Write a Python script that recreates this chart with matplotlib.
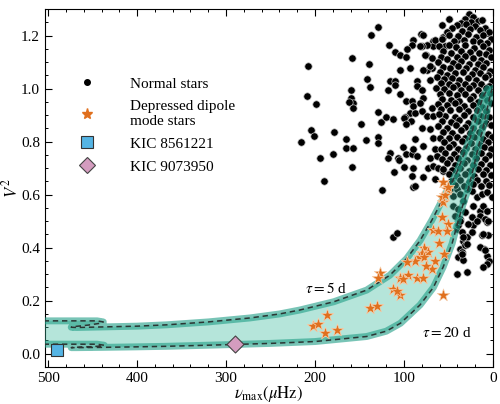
import numpy as np
import matplotlib.pyplot as plt
from matplotlib.patches import Polygon
from matplotlib.lines import Line2D
from matplotlib.ticker import MultipleLocator

plt.rcParams['font.family'] = ['Liberation Serif', 'DejaVu Serif']
plt.rcParams['mathtext.fontset'] = 'stix'

# normal stars, sparse part (numax, V^2)
sparse_stars = [
    (49.0, 1.262), (57.7, 1.240), (129.6, 1.234), (137.0, 1.202), (80.9, 1.205), (89.5, 1.184),
    (117.4, 1.166), (91.4, 1.165), (97.0, 1.150), (110.0, 1.137), (104.5, 1.127), (97.8, 1.121),
    (158.8, 1.115), (207.5, 1.086), (139.0, 1.094), (105.0, 1.071), (93.3, 1.077), (141.9, 1.037),
    (138.2, 1.006), (115.7, 1.027), (110.0, 1.030), (110.0, 1.015), (160.0, 0.996), (117.6, 0.996),
    (104.5, 0.981), (209.3, 0.971), (198.9, 0.941), (160.0, 0.965), (157.0, 0.946), (161.8, 0.949),
    (157.0, 0.928), (98.1, 0.952), (91.4, 0.952), (90.2, 0.934), (93.3, 0.909), (98.9, 0.892),
    (128.9, 0.911), (126.2, 0.874), (120.6, 0.894), (112.7, 0.886), (100.0, 0.890), (92.5, 0.877),
    (97.8, 0.865), (204.8, 0.844), (201.0, 0.821), (216.0, 0.800), (178.3, 0.837), (148.7, 0.865),
    (165.5, 0.809), (165.2, 0.777), (157.0, 0.775), (158.8, 0.705), (143.0, 0.806), (129.6, 0.819),
    (128.9, 0.796), (194.4, 0.737), (180.1, 0.755), (189.9, 0.652), (125.0, 0.619), (101.0, 0.781),
    (97.8, 0.755), (115.7, 0.756), (118.3, 0.737), (106.4, 0.740), (105.3, 0.730), (100.0, 0.705),
    (90.7, 0.755), (89.5, 0.702), (111.2, 0.684), (90.7, 0.669), (90.2, 0.627), (112.0, 0.442),
    (108.2, 0.457),
    (67.0, 1.180), (67.0, 1.162), (74.5, 1.165), (79.4, 1.159), (75.6, 1.127), (68.9, 1.077),
    (74.5, 1.069), (85.7, 1.030), (70.8, 1.034), (78.3, 0.965), (82.0, 0.946), (78.3, 1.202),
    (82.0, 1.159), (65.2, 1.184), (55.8, 1.196), (53.9, 1.162), (40.8, 1.184), (76.4, 1.127),
    (68.9, 1.115), (70.8, 1.084), (78.3, 1.071), (85.7, 1.009), (80.0, 0.996),
    (87.6, 0.909), (80.1, 0.915), (74.5, 0.896), (68.9, 0.927), (67.0, 0.896), (80.1, 0.852),
    (70.8, 0.846), (87.6, 0.809), (78.3, 0.784), (67.0, 0.815), (65.2, 0.771), (89.5, 0.771),
    (85.7, 0.746), (70.8, 0.740), (63.3, 0.746), (72.7, 0.702), (67.0, 0.709), (61.5, 0.702),
    (78.3, 0.665), (87.6, 0.634), (65.2, 0.659), (55.8, 0.690),
]

# normal stars below V^2 = 0.63, behind / right of the band
low_stars = [
    (24.0, 0.615), (18.3, 0.590), (12.7, 0.603), (7.1, 0.609), (1.5, 0.590), (22.1, 0.559),
    (14.6, 0.540), (24.0, 0.515), (7.1, 0.496), (12.7, 0.446), (5.3, 0.446), (10.1, 0.396),
    (6.4, 0.367), (4.5, 0.349), (33.4, 0.427), (37.0, 0.396), (39.0, 0.365), (40.8, 0.299),
    (35.2, 0.384), (31.5, 0.409), (28.9, 0.440), (22.1, 0.484), (48.3, 0.621), (44.6, 0.596),
    (40.8, 0.621), (37.0, 0.603), (33.4, 0.577), (44.6, 0.559), (39.0, 0.546), (42.7, 0.521),
    (37.0, 0.509), (40.8, 0.471), (35.2, 0.459), (29.6, 0.621), (31.5, 0.534), (27.8, 0.490),
    (10.9, 0.559), (7.1, 0.540), (14.6, 0.521), (9.0, 0.509), (5.3, 0.500), (18.3, 0.502),
    (24.0, 0.459), (10.9, 0.452), (14.6, 0.402), (9.0, 0.390), (6.4, 0.340), (10.9, 0.327),
    (33.4, 0.352), (29.6, 0.309), (35.2, 0.378), (29.6, 0.415), (33.4, 0.440), (39.0, 0.484),
    (37.0, 0.502),
]

# dense clump of normal stars at low numax
clump_stars = [
    (27, 1.283), (22, 1.271), (31, 1.262), (17, 1.255), (25, 1.252), (36, 1.249), (12, 1.258),
    (41, 1.238), (30, 1.242), (20, 1.236), (9, 1.229), (15, 1.221), (26, 1.225), (35, 1.218),
    (46, 1.227), (4, 1.214), (52, 1.212),
    (49, 1.204), (39, 1.199), (28, 1.207), (19, 1.195), (11, 1.202), (2, 1.188), (33, 1.184),
    (23, 1.178), (44, 1.181), (57, 1.188), (7, 1.173), (15, 1.176),
    (61, 1.162), (50, 1.166), (42, 1.158), (31, 1.163), (21, 1.152), (11, 1.159), (4, 1.147),
    (36, 1.141), (26, 1.137), (16, 1.134), (47, 1.135), (56, 1.142), (8, 1.131),
    (59, 1.121), (52, 1.112), (41, 1.119), (32, 1.124), (22, 1.115), (13, 1.109), (2, 1.118),
    (45, 1.098), (36, 1.103), (27, 1.094), (17, 1.092), (8, 1.097), (62, 1.099),
    (56, 1.083), (48, 1.077), (39, 1.085), (30, 1.079), (20, 1.071), (11, 1.081), (3, 1.068),
    (60, 1.062), (43, 1.058), (34, 1.064), (24, 1.054), (15, 1.057), (6, 1.051), (52, 1.052),
    (63, 1.044), (55, 1.036), (46, 1.041), (38, 1.032), (28, 1.039), (19, 1.033), (9, 1.042),
    (1, 1.029), (50, 1.017), (41, 1.014), (32, 1.019), (23, 1.012), (13, 1.016), (5, 1.011),
    (59, 1.021),
    (64, 1.003), (55, 0.998), (45, 1.006), (36, 0.995), (27, 1.002), (17, 0.993), (8, 1.001),
    (60, 0.978), (50, 0.982), (40, 0.975), (31, 0.979), (22, 0.972), (12, 0.977), (3, 0.984),
    (57, 0.962), (47, 0.958), (38, 0.955), (26, 0.961), (17, 0.951), (7, 0.957), (62, 0.941),
    (52, 0.937), (43, 0.944), (33, 0.934), (22, 0.939), (12, 0.932), (2, 0.945),
    (58, 0.922), (48, 0.918), (38, 0.924), (28, 0.914), (18, 0.921), (8, 0.916), (54, 0.898),
    (43, 0.894), (33, 0.901), (23, 0.893), (13, 0.897), (4, 0.891), (61, 0.905),
    (57, 0.878), (47, 0.874), (38, 0.881), (28, 0.869), (17, 0.876), (8, 0.872), (62, 0.858),
    (52, 0.853), (42, 0.862), (32, 0.856), (22, 0.851), (12, 0.855), (2, 0.861),
    (56, 0.838), (46, 0.833), (36, 0.842), (26, 0.831), (16, 0.836), (6, 0.829), (60, 0.815),
    (50, 0.812), (41, 0.818), (31, 0.813), (21, 0.819), (11, 0.811), (1, 0.816),
    (55, 0.797), (45, 0.792), (35, 0.801), (25, 0.794), (15, 0.789), (6, 0.798), (58, 0.774),
    (49, 0.778), (39, 0.771), (30, 0.777), (20, 0.773), (10, 0.779), (2, 0.772),
    (54, 0.758), (44, 0.753), (34, 0.761), (24, 0.752), (14, 0.757), (5, 0.751), (57, 0.736),
    (48, 0.733), (39, 0.739), (29, 0.731), (19, 0.737), (9, 0.734),
    (52, 0.718), (43, 0.713), (33, 0.721), (23, 0.711), (13, 0.716), (3, 0.712), (56, 0.696),
    (46, 0.692), (37, 0.699), (27, 0.691), (17, 0.697), (8, 0.693),
    (50, 0.676), (41, 0.672), (31, 0.679), (21, 0.671), (11, 0.677), (2, 0.673), (47, 0.652),
    (37, 0.656), (27, 0.649), (18, 0.655), (8, 0.651), (43, 0.637), (33, 0.633), (23, 0.639),
    (13, 0.634), (4, 0.638),
]

# depressed dipole mode stars
dep_nu = [56.5, 57.7, 50.2, 67.0, 61.5, 52.0, 60.3, 77.5, 72.7, 80.1, 82.8, 87.6, 77.5, 65.2,
          68.9, 75.3, 55.0, 97.0, 95.1, 104.5, 100.8, 85.7, 79.0, 127.0, 128.9, 112.0, 104.5,
          108.2, 56.5, 138.2, 130.7, 186.2, 201.9, 196.3, 188.8, 175.0, 55.8, 52.0, 57.7, 53.9,
          50.2]
dep_v2 = [0.571, 0.517, 0.490, 0.465, 0.462, 0.462, 0.417, 0.400, 0.384, 0.380, 0.363, 0.349,
          0.365, 0.350, 0.319, 0.330, 0.375, 0.346, 0.296, 0.287, 0.280, 0.286, 0.284, 0.303,
          0.284, 0.243, 0.221, 0.237, 0.220, 0.171, 0.180, 0.146, 0.106, 0.111, 0.080, 0.090,
          0.646, 0.621, 0.590, 0.600, 0.630]

kic1_nu, kic1_v2 = [490], [0.014]
kic2_nu, kic2_v2 = [290], [0.0375]

# model curves
tau5_nu = [505, 470, 445, 438, 441, 455, 472, 474, 468, 440, 400, 367, 320, 273, 240, 217,
           179, 142, 116, 97, 82, 69, 60, 54, 47, 40, 33, 25, 18, 11, 6]
tau5_v2 = [0.124, 0.124, 0.124, 0.120, 0.115, 0.108, 0.102, 0.100, 0.099, 0.101, 0.104, 0.109,
           0.120, 0.135, 0.150, 0.165, 0.196, 0.240, 0.296, 0.359, 0.427, 0.502, 0.560, 0.600,
           0.640, 0.690, 0.750, 0.820, 0.900, 0.970, 1.000]
tau20_nu = [505, 470, 445, 437, 441, 455, 472, 474, 468, 440, 400, 367, 300, 250, 200, 142,
            120, 104, 82, 67, 56, 46, 40, 34, 28, 22, 15, 8, 3.5, 1]
tau20_v2 = [0.036, 0.036, 0.036, 0.032, 0.029, 0.026, 0.024, 0.023, 0.023, 0.024, 0.026, 0.028,
            0.034, 0.039, 0.046, 0.065, 0.085, 0.115, 0.184, 0.250, 0.327, 0.415, 0.490, 0.560,
            0.620, 0.700, 0.800, 0.900, 0.970, 1.000]

normal = sparse_stars + low_stars + clump_stars
nu_normal = [p[0] for p in normal]
v2_normal = [p[1] for p in normal]

fig = plt.figure(figsize=(5, 4.04), dpi=100)
ax = fig.add_axes([0.09, 0.0916, 0.896, 0.886])

ax.scatter(nu_normal, v2_normal, s=28, c='black', edgecolors='#c0c0c0', linewidths=0.5, zorder=2)

# shaded band between the two tau curves
band = np.column_stack([tau5_nu + tau20_nu[::-1], tau5_v2 + tau20_v2[::-1]])
ax.add_patch(Polygon(band, closed=True, facecolor='#3dbb9f', edgecolor='none', alpha=0.38, zorder=3))
for nu, v2 in [(tau5_nu, tau5_v2), (tau20_nu, tau20_v2)]:
    ax.plot(nu, v2, color='#1f9e86', lw=5, alpha=0.6, solid_capstyle='round', zorder=3)
    ax.plot(nu, v2, color='#2b3533', lw=1.1, dashes=(3.5, 2.5), zorder=4)

ax.scatter(dep_nu, dep_v2, marker='*', s=90, c='#e0701e', edgecolors='#f6cfae', linewidths=0.5, zorder=5)
ax.scatter(kic1_nu, kic1_v2, marker='s', s=75, c='#54b4e4', edgecolors='#333333', linewidths=0.8, zorder=6)
ax.scatter(kic2_nu, kic2_v2, marker='D', s=75, c='#d49cbf', edgecolors='#444444', linewidths=0.8, zorder=6)

ax.text(211, 0.247, r'$\tau = 5$ d', fontsize=11, ha='left', va='center')
ax.text(80, 0.08, r'$\tau = 20$ d', fontsize=11, ha='left', va='center')

ax.set_xlim(503.5, 0)
ax.set_ylim(-0.05, 1.3)
ax.xaxis.set_major_locator(MultipleLocator(100))
ax.xaxis.set_minor_locator(MultipleLocator(20))
ax.yaxis.set_major_locator(MultipleLocator(0.2))
ax.yaxis.set_minor_locator(MultipleLocator(0.05))
ax.tick_params(which='both', direction='in', top=True, right=True, labelsize=11)
ax.tick_params(which='major', length=5, width=0.8)
ax.tick_params(which='minor', length=2.5, width=0.7)
ax.set_xlabel(r'$\nu_{\rm max}(\mu{\rm Hz})$', fontsize=12)
ax.set_ylabel(r'$V^2$', fontsize=12)
ax.xaxis.set_label_coords(0.5, -0.048)
ax.yaxis.set_label_coords(-0.052, 0.5)

handles = [
    Line2D([], [], ls='', marker='o', ms=4, color='black'),
    Line2D([], [], ls='', marker='*', ms=8, color='#e0701e'),
    Line2D([], [], ls='', marker='s', ms=8, mfc='#54b4e4', mec='#333333', mew=0.8),
    Line2D([], [], ls='', marker='D', ms=8, mfc='#d49cbf', mec='#444444', mew=0.8),
]
labels = ['Normal stars', 'Depressed dipole\nmode stars', 'KIC 8561221', 'KIC 9073950']
ax.legend(handles, labels, loc='upper left', bbox_to_anchor=(0.06, 0.81), frameon=False,
          fontsize=11, borderpad=0, borderaxespad=0, handletextpad=1.8, labelspacing=0.6)

plt.savefig('out.png', dpi=100)
